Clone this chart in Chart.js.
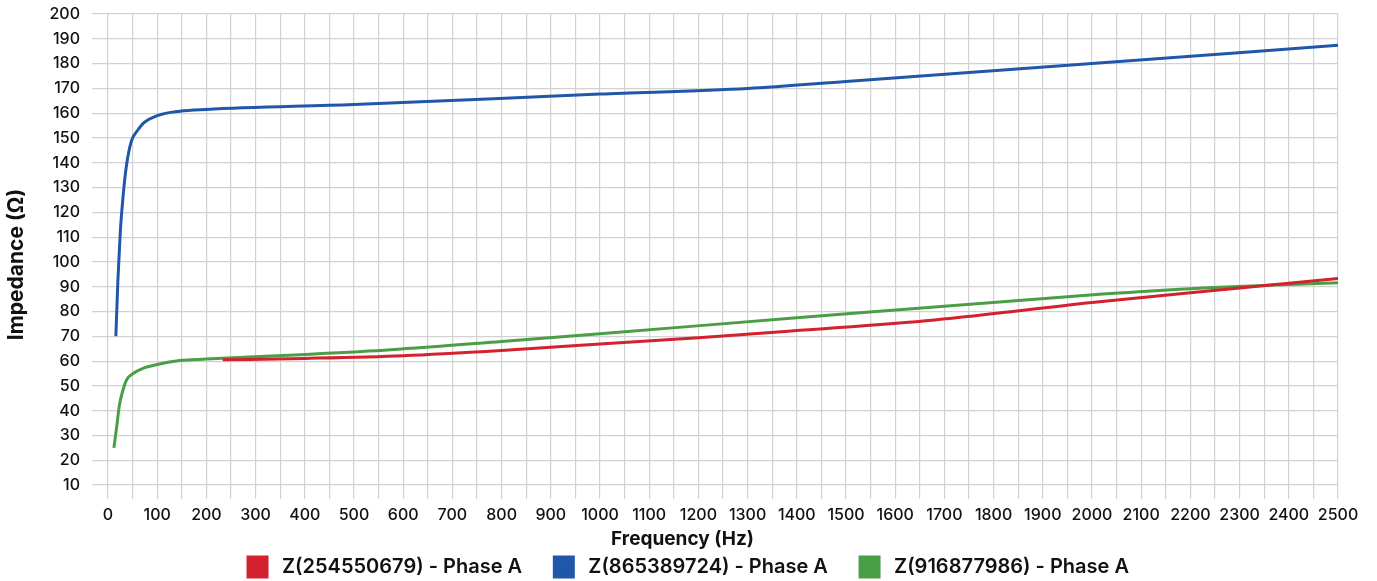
<!DOCTYPE html>
<html>
<head>
<meta charset="utf-8">
<script src="https://cdn.jsdelivr.net/npm/chart.js@4.4.1/dist/chart.umd.min.js"></script>
<style>
  html, body { margin: 0; padding: 0; background: #ffffff; }
  #wrap { width: 1377px; height: 581px; }
</style>
</head>
<body>
<div id="wrap"><canvas id="impChart"></canvas></div>
<script>
// series: frequency (Hz) and impedance (ohm)
var seriesNames = ['Z(254550679) - Phase A', 'Z(865389724) - Phase A', 'Z(916877986) - Phase A']
var seriesColors = ['#d3212d', '#2057a8', '#4a9e46']

var redFreq = [233, 400, 600, 800, 1000, 1200, 1400, 1680, 2000, 2200, 2500]
var redZ = [60.5, 61.1, 62.2, 64.3, 66.9, 69.4, 72.3, 76.6, 83.6, 87.6, 93.3]

var blueFreq = [16, 20, 25, 30, 35, 40, 48, 60, 72, 100, 146, 200, 500, 1000, 1300, 1500, 2000, 2500]
var blueZ = [70, 92, 112, 125, 135, 142, 149, 153, 156, 159, 160.8, 161.5, 163.5, 167.7, 170, 172.8, 180, 187.4]

var greenFreq = [12, 18, 23, 30, 38, 51, 70, 100, 146, 200, 390, 575, 800, 1000, 1400, 1983, 2200, 2500]
var greenZ = [25, 34, 42, 48, 52.5, 55, 57, 58.6, 60.2, 60.8, 62.6, 64.6, 67.9, 71, 77.5, 86.5, 89.2, 91.6]

var xTitle = 'Frequency (Hz)'
var yTitle = 'Impedance (Ω)'

var xTicks = []
for (var f = 0; f <= 2500; f += 50) xTicks.push(f)
var yTicks = []
for (var v = 10; v <= 200; v += 10) yTicks.push(v)

function toPoints(xs, ys) {
    return xs.map(function(x, i) { return { x: x, y: ys[i] } })
}

var allFreq = [redFreq, blueFreq, greenFreq]
var allZ = [redZ, blueZ, greenZ]

var datasets = seriesNames.map(function(name, i) {
    return {
        label: name,
        data: toPoints(allFreq[i], allZ[i]),
        borderColor: seriesColors[i],
        backgroundColor: seriesColors[i],
        borderWidth: 3,
        pointRadius: 0,
        cubicInterpolationMode: 'monotone',
        fill: false
    }
})

var fontFam = 'Inter, "Open Sans", sans-serif'
var gridColor = '#d2d2d2'

// the axis titles in the original are centred on the page, not on the plot,
// so the scale title only reserves the room and this draws the text
var axisTitles = {
    id: 'axisTitles',
    afterDraw: function(chart) {
        var c = chart.ctx
        var xs = chart.scales.x
        c.save()
        c.fillStyle = '#111111'
        c.textAlign = 'center'
        c.textBaseline = 'middle'
        c.font = '700 19px ' + fontFam
        c.fillText(xTitle, chart.width / 2 - 6, xs.bottom - 15.4)
        c.font = '700 21px ' + fontFam
        c.translate(17, chart.height / 2 - 26)
        c.rotate(-Math.PI / 2)
        c.fillText(yTitle, 0, 0)
        c.restore()
    }
}

var ctx = document.getElementById('impChart').getContext('2d')
var chart = new Chart(ctx, {
    type: 'line',
    data: { datasets: datasets },
    plugins: [axisTitles],
    options: {
        responsive: true,
        maintainAspectRatio: false,
        animation: false,
        layout: { padding: { top: 0, right: 0, left: 0, bottom: -6 } },
        plugins: {
            tooltip: { enabled: false },
            legend: {
                position: 'bottom',
                labels: {
                    color: '#111111',
                    boxWidth: 19,
                    boxHeight: 20,
                    padding: 2,
                    font: { family: fontFam, size: 20, weight: '600' },
                    generateLabels: function(chart) {
                        var items = Chart.defaults.plugins.legend.labels.generateLabels(chart)
                        items.forEach(function(it, i) {
                            // a little more room between box and text, and between items
                            it.text = ' ' + it.text + (i < items.length - 1 ? '      ' : '')
                        })
                        return items
                    }
                }
            }
        },
        scales: {
            x: {
                type: 'linear',
                min: -32.5,
                max: 2500,
                afterBuildTicks: function(scale) {
                    scale.ticks = xTicks.map(function(t) { return { value: t } })
                },
                afterFit: function(scale) { scale.paddingRight = 39 },
                ticks: {
                    autoSkip: false,
                    maxRotation: 0,
                    padding: 8,
                    color: '#111111',
                    font: { family: fontFam, size: 16, weight: '500', lineHeight: 1 },
                    callback: function(value) {
                        return value % 100 === 0 ? String(value) : ''
                    }
                },
                grid: { color: gridColor, lineWidth: 1.2, drawTicks: false },
                border: { display: false },
                title: {
                    display: true,
                    text: xTitle,
                    color: 'rgba(0,0,0,0)',
                    padding: { top: 0, bottom: 1 },
                    font: { family: fontFam, size: 19, weight: '700' }
                }
            },
            y: {
                type: 'linear',
                min: 4.3,
                max: 200,
                afterBuildTicks: function(scale) {
                    scale.ticks = yTicks.map(function(t) { return { value: t } })
                },
                afterFit: function(scale) {
                    scale.width = 92
                    scale.paddingTop = 14
                },
                ticks: {
                    padding: 12,
                    color: '#111111',
                    font: { family: fontFam, size: 16, weight: '500' }
                },
                grid: { color: gridColor, lineWidth: 1.2, drawTicks: false },
                border: { display: false },
                title: { display: false }
            }
        }
    }
})
</script>
</body>
</html>
